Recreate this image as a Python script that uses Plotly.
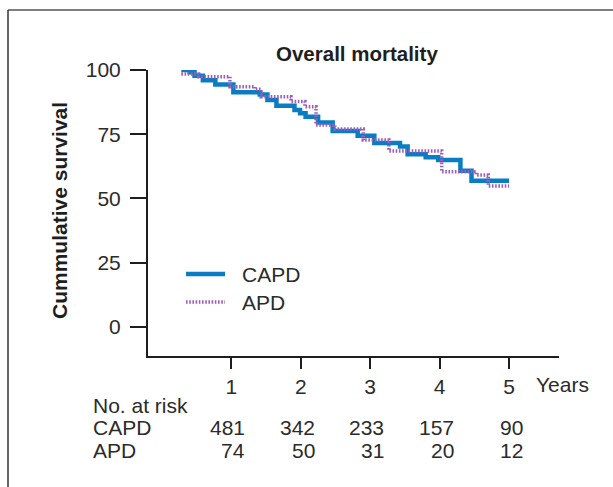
import plotly.graph_objects as go

# ---- data ----
capd_t = [0.28, 0.40, 0.47, 0.59, 0.77, 1.03, 1.41, 1.52, 1.65, 1.91, 1.99, 2.07, 2.25, 2.46,
          2.82, 3.06, 3.43, 3.54, 3.80, 3.98, 4.30, 4.46, 5.00]
capd_s = [100.0, 99.1, 97.8, 96.0, 94.4, 91.3, 90.5, 88.3, 86.1, 84.4, 83.2, 81.8, 79.6, 76.3,
          74.4, 71.6, 70.2, 67.2, 66.0, 65.0, 60.8, 56.9, 56.9]
apd_t = [0.28, 0.53, 0.98, 1.34, 1.43, 1.86, 2.06, 2.22, 2.49, 2.90, 3.27, 4.03, 4.53, 4.70, 5.00]
apd_s = [98.4, 97.4, 93.5, 92.5, 89.6, 87.7, 85.7, 78.6, 77.0, 72.8, 68.5, 60.4, 59.1, 54.9, 54.9]

years = [1, 2, 3, 4, 5]
capd_risk = [481, 342, 233, 157, 90]
apd_risk = [74, 50, 31, 20, 12]
y_ticks = [0, 25, 50, 75, 100]

FONT = "Liberation Sans, Arial, Helvetica, sans-serif"
TXT = "#2b2b2b"
BLUE = "#0a7cc2"
PURPLE = "#a05cb8"
FS = 21

fig = go.Figure()
fig.add_trace(go.Scatter(x=capd_t, y=capd_s, mode="lines", name="CAPD",
                         line=dict(color=BLUE, width=4.5, shape="hv"), cliponaxis=False))
fig.add_trace(go.Scatter(x=apd_t, y=apd_s, mode="lines", name="APD",
                         line=dict(color=PURPLE, width=3.5, shape="hv", dash="1.6px,1.6px"),
                         cliponaxis=False))

# geometry helpers (plot area: x 148..559 px, y 70..356 px)
L, R, T, B = 148, 559, 70, 356
def px(xp):
    return (xp - L) / (R - L)
def py(yp):
    return (B - yp) / (B - T)

# outer frame (left and top edges only visible)
fig.add_shape(type="line", xref="paper", yref="paper", x0=px(8), x1=px(640), y0=py(10), y1=py(10),
              line=dict(color="#555555", width=1.5))
fig.add_shape(type="line", xref="paper", yref="paper", x0=px(8), x1=px(8), y0=py(10), y1=py(520),
              line=dict(color="#333333", width=1.5))

# legend drawn manually
fig.add_shape(type="line", xref="paper", yref="paper", x0=px(186), x1=px(225), y0=py(274), y1=py(274),
              line=dict(color=BLUE, width=4.5))
fig.add_shape(type="line", xref="paper", yref="paper", x0=px(186), x1=px(225), y0=py(302), y1=py(302),
              line=dict(color=PURPLE, width=3.5, dash="1.6px,1.6px"))
for name, yy in (("CAPD", 274), ("APD", 302)):
    fig.add_annotation(text=name, xref="paper", yref="paper", x=px(240), y=py(yy),
                       xanchor="left", yanchor="middle", showarrow=False,
                       font=dict(family=FONT, size=FS, color=TXT))

# title and axis title
fig.add_annotation(text="<b>Overall mortality</b>", xref="paper", yref="paper", x=px(357), y=py(53),
                   xanchor="center", yanchor="middle", showarrow=False,
                   font=dict(family=FONT, size=20.5, color="#1e1e1e"))
fig.add_annotation(text="<b>Cummulative survival</b>", xref="paper", yref="paper", x=px(59), y=py(211),
                   xanchor="center", yanchor="middle", showarrow=False, textangle=-90,
                   font=dict(family=FONT, size=21, color="#1e1e1e"))
fig.add_annotation(text="Years", xref="paper", yref="paper", x=px(534), y=py(384),
                   xanchor="left", yanchor="middle", showarrow=False,
                   font=dict(family=FONT, size=FS, color=TXT))

# number at risk table
for lab, yy in (("No. at risk", 405), ("CAPD", 427.5), ("APD", 450)):
    fig.add_annotation(text=lab, xref="paper", yref="paper", x=px(91), y=py(yy),
                       xanchor="left", yanchor="middle", showarrow=False,
                       font=dict(family=FONT, size=FS, color=TXT))
for vals, yy in ((capd_risk, 427.5), (apd_risk, 450)):
    for yr, v in zip(years, vals):
        fig.add_annotation(text=str(v), xref="x", yref="paper", x=yr, y=py(yy),
                           xanchor="right", yanchor="middle", showarrow=False, xshift=16,
                           font=dict(family=FONT, size=FS, color=TXT))

fig.update_layout(
    width=613, height=487,
    margin=dict(l=L, r=613 - R, t=T, b=487 - B, pad=0),
    paper_bgcolor="white", plot_bgcolor="white",
    showlegend=False,
    font=dict(family=FONT, color=TXT),
)
fig.update_xaxes(range=[-0.2, 5.72], tickvals=years, ticktext=[str(y) for y in years],
                 showgrid=False, zeroline=False, showline=True, linecolor="#1e1e1e", linewidth=2,
                 ticks="outside", ticklen=11, tickwidth=2, tickcolor="#1e1e1e",
                 ticklabelstandoff=0,
                 tickfont=dict(family=FONT, size=FS, color=TXT))
fig.update_yaxes(range=[-11.3, 100], tickvals=y_ticks,
                 showgrid=False, zeroline=False, showline=True, linecolor="#1e1e1e", linewidth=2,
                 ticks="outside", ticklen=16, tickwidth=2, tickcolor="#1e1e1e",
                 ticklabelstandoff=5,
                 tickfont=dict(family=FONT, size=FS, color=TXT))

fig.write_html("out.html")
